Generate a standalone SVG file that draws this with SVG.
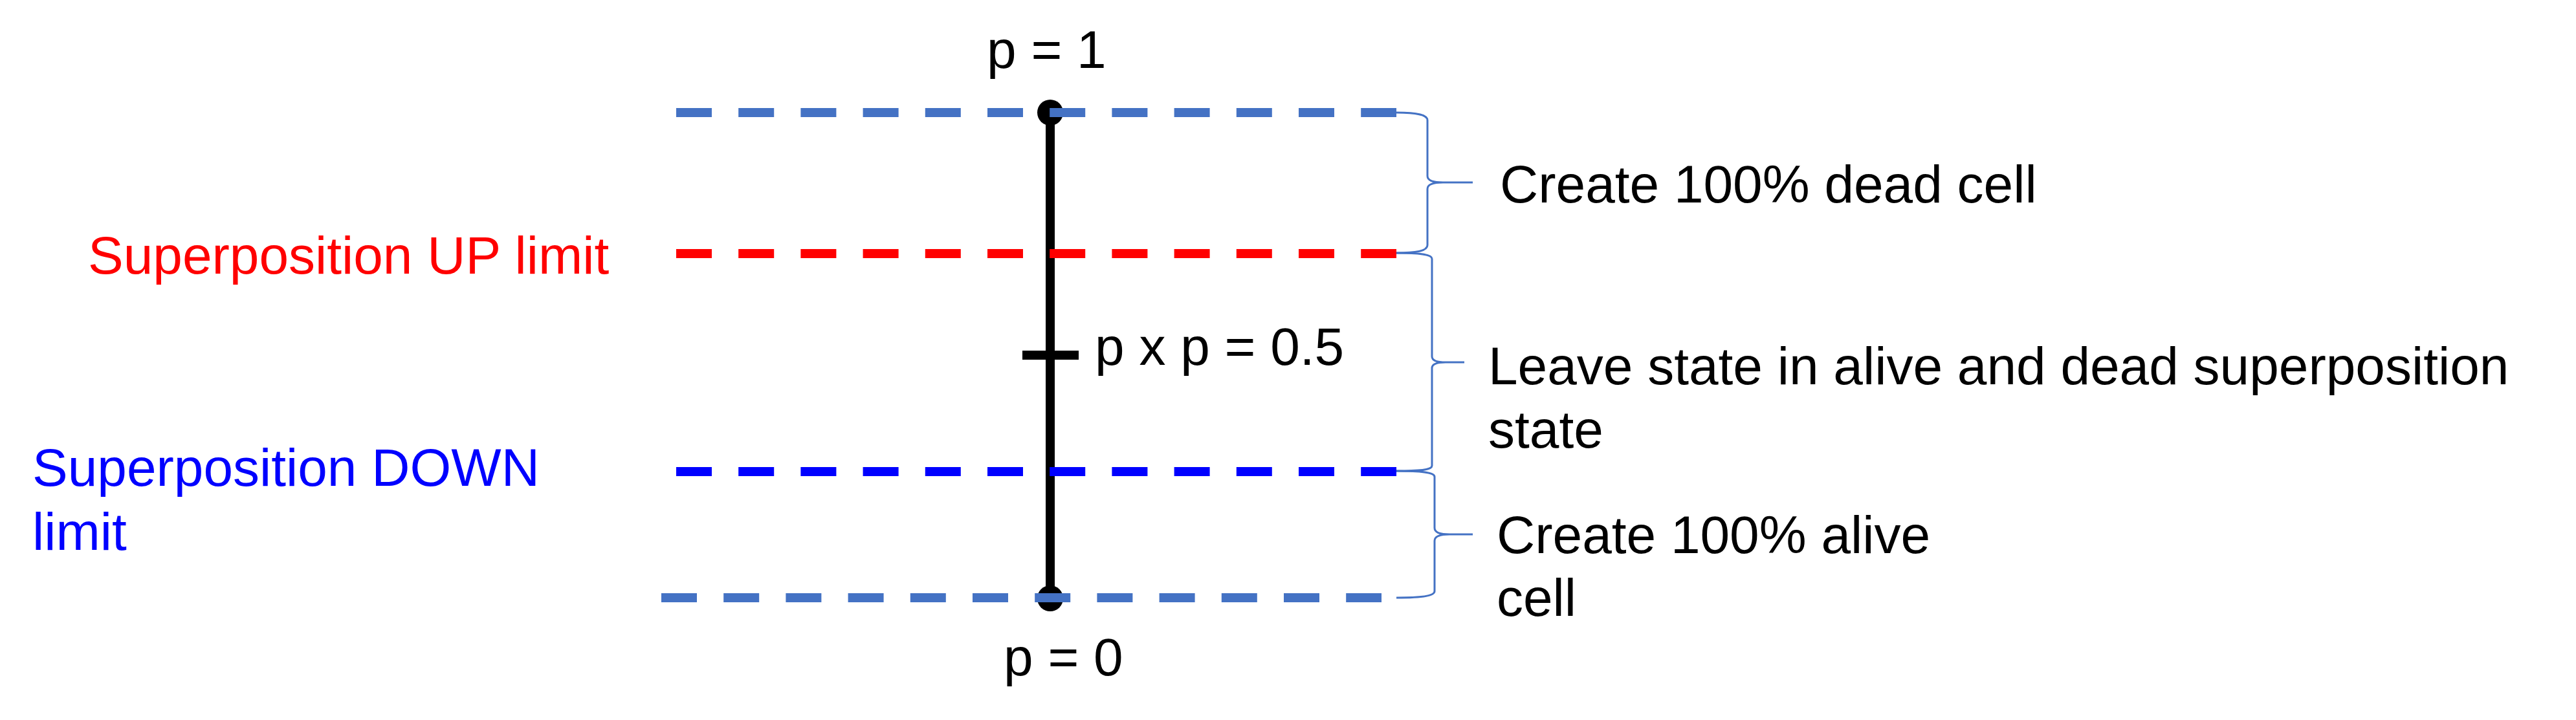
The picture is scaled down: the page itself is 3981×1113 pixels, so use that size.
<svg xmlns="http://www.w3.org/2000/svg" width="3981" height="1113" viewBox="0 0 3981 1113">
<style>
text{font-family:"Liberation Sans",Arial,sans-serif;font-size:82px;fill:#000}
.red{fill:#FF0000}
.blue{fill:#0000FF}
.dash{fill:none;stroke-width:14;stroke-dasharray:55 41.2}
.brace{fill:none;stroke:#4472C4;stroke-width:3}
</style>
<rect width="3981" height="1113" fill="#fff"/>
<g id="axis">
<line x1="1623" y1="174" x2="1623" y2="924" stroke="#000" stroke-width="14"/>
<line x1="1580" y1="549" x2="1667" y2="549" stroke="#000" stroke-width="14"/>
<circle cx="1623" cy="174" r="20" fill="#000"/>
<circle cx="1623" cy="925" r="20" fill="#000"/>
</g>
<g id="connectors">
<line class="dash" x1="1045" y1="174" x2="2158" y2="174" stroke="#4472C4"/>
<line class="dash" x1="1045" y1="392" x2="2158" y2="392" stroke="#FF0000"/>
<line class="dash" x1="1045" y1="729" x2="2158" y2="729" stroke="#0000FF"/>
<line class="dash" x1="1022" y1="924" x2="2135" y2="924" stroke="#4472C4"/>
<path class="brace" d="M2158,174 C2192,174 2206,178 2206,186 L2206,272 C2206,279 2214,282 2230,282 L2276,282 M2230,282 C2214,282 2206,285 2206,292 L2206,379 C2206,387 2192,391 2158,391"/>
<path class="brace" d="M2158,391 C2198,391 2213,394 2213,400 L2213,551 C2213,557 2220,560 2234,560 L2263,560 M2234,560 C2220,560 2213,563 2213,569 L2213,720 C2213,726 2198,728 2158,728"/>
<path class="brace" d="M2158,728 C2202,728 2217,731 2217,737 L2217,816 C2217,822 2224,826 2240,826 L2276,826 M2240,826 C2224,826 2217,829 2217,836 L2217,914 C2217,920 2202,924 2158,924"/>
</g>
<g id="label-p1"><text x="1525" y="105">p = 1</text></g>
<g id="label-p0"><text x="1551" y="1044">p = 0</text></g>
<g id="label-half"><text x="1692" y="564">p x p = 0.5</text></g>
<g id="label-up"><text class="red" x="136" y="423">Superposition UP limit</text></g>
<g id="label-down"><text class="blue" x="50" y="751">Superposition DOWN</text><text class="blue" x="50" y="850">limit</text></g>
<g id="label-dead"><text x="2318" y="313">Create 100% dead cell</text></g>
<g id="label-super"><text x="2300" y="594">Leave state in alive and dead superposition</text><text x="2300" y="692">state</text></g>
<g id="label-alive"><text x="2313" y="855">Create 100% alive</text><text x="2313" y="952">cell</text></g>
</svg>
